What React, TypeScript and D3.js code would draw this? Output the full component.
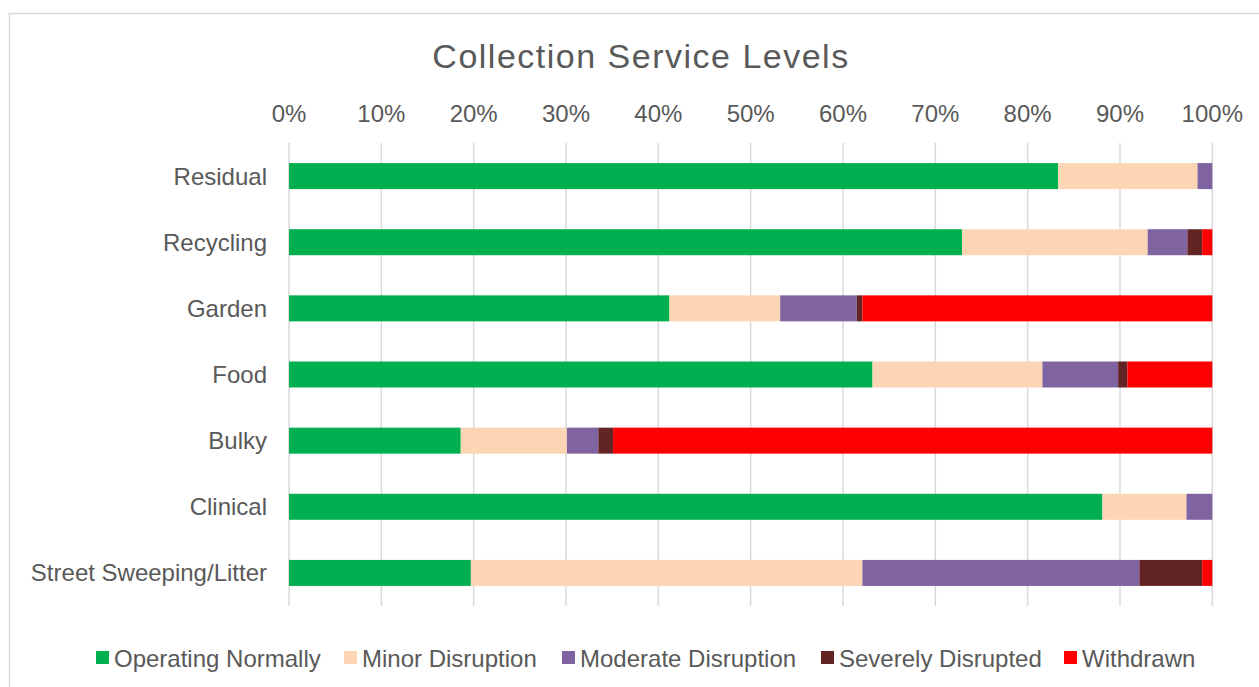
import * as d3 from 'd3';
import React from 'react';

const width = 1259;
const height = 687;
const margin = { top: 143, right: 47, bottom: 81, left: 289 };

const categories = ['Residual', 'Recycling', 'Garden', 'Food', 'Bulky', 'Clinical', 'Street Sweeping/Litter'];
const seriesNames = ['Operating Normally', 'Minor Disruption', 'Moderate Disruption', 'Severely Disrupted', 'Withdrawn'];
const colors = ['#00B050', '#FCD5B5', '#8064A2', '#632523', '#FF0000'];

const operatingNormally = [83.3, 72.9, 41.2, 63.2, 18.6, 88.1, 19.7];
const minorDisruption = [15.1, 20.1, 12.0, 18.4, 11.5, 9.1, 42.4];
const moderateDisruption = [1.6, 4.3, 8.3, 8.2, 3.4, 2.8, 30.0];
const severelyDisrupted = [0, 1.6, 0.6, 1.0, 1.6, 0, 6.8];
const withdrawn = [0, 1.1, 37.9, 9.2, 64.9, 0, 1.1];

const tickValues = [0, 10, 20, 30, 40, 50, 60, 70, 80, 90, 100];

const textColor = '#595959';
const gridColor = '#D9D9D9';
const font = '"Liberation Sans", Arial, Helvetica, sans-serif';

const App = () => {
  const allSeries = [operatingNormally, minorDisruption, moderateDisruption, severelyDisrupted, withdrawn];
  const rows = categories.map((c, i) => {
    const row: any = { category: c };
    seriesNames.forEach((s, j) => { row[s] = allSeries[j][i]; });
    return row;
  });
  const stacked = d3.stack().keys(seriesNames)(rows);

  const xScale = d3.scaleLinear().domain([0, 100]).range([margin.left, width - margin.right + 0.3]);
  const yScale = d3.scaleBand().domain(categories)
    .range([margin.top, height - margin.bottom])
    .paddingInner(0.607).paddingOuter(0.3035);

  // legend swatch positions
  const legendX = [96, 344, 562, 821, 1064];

  return (
    <svg width={width} height={height}
      style={{ position: 'absolute', left: 0, top: 0, display: 'block', fontFamily: font }}>
      <rect x={0} y={0} width={width} height={height} fill='#fff' />
      <rect x={9.5} y={13.5} width={width + 20} height={height + 20} fill='none' stroke={gridColor} strokeWidth='1.5' />
      <text x={641} y={68} textAnchor='middle' fontSize='34' letterSpacing='1.5' fill={textColor}>Collection Service Levels</text>

      <g>
        {tickValues.map(t => (
          <g key={t}>
            <line x1={xScale(t)} x2={xScale(t)} y1={margin.top} y2={height - margin.bottom}
              stroke={gridColor} strokeWidth='1.5' />
            <text x={xScale(t)} y={122} textAnchor='middle' fontSize='24' fill={textColor}>{t}%</text>
          </g>
        ))}
      </g>

      <g>
        {categories.map(c => (
          <text key={c} x={267} y={(yScale(c) as number) + yScale.bandwidth() / 2 + 8.5}
            textAnchor='end' fontSize='24' fill={textColor}>{c}</text>
        ))}
      </g>

      <g>
        {stacked.map((layer, j) => (
          <g key={layer.key} fill={colors[j]}>
            {layer.map((d: any, i) => (
              d[1] - d[0] > 0 ? (
                <rect key={i} x={xScale(d[0])} width={xScale(d[1]) - xScale(d[0])}
                  y={yScale(d.data.category)} height={yScale.bandwidth()} />
              ) : null
            ))}
          </g>
        ))}
      </g>

      <g>
        {seriesNames.map((s, j) => (
          <g key={s}>
            <rect x={legendX[j]} y={651} width={13} height={13} fill={colors[j]} />
            <text x={legendX[j] + 18} y={666.5} fontSize='24' fill={textColor}>{s}</text>
          </g>
        ))}
      </g>
    </svg>
  );
};

export default App;
